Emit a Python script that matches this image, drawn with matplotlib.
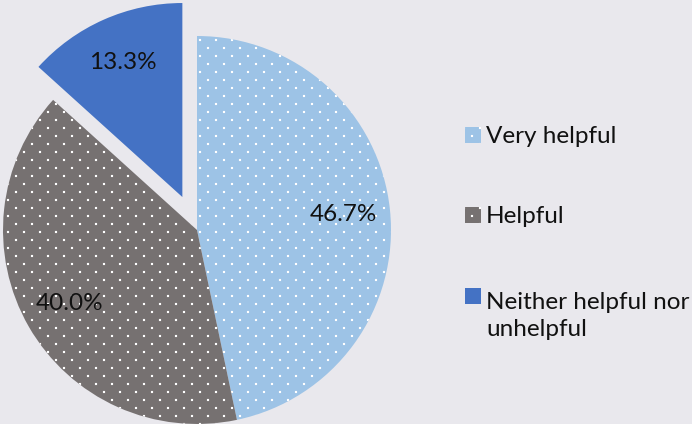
import numpy as np
import matplotlib
matplotlib.use("Agg")
import matplotlib.pyplot as plt
import matplotlib.hatch as mhatch
from matplotlib.path import Path
from matplotlib.patches import Rectangle

# ---------------- data ----------------
categories = ["Very helpful", "Helpful", "Neither helpful nor\nunhelpful"]
values = [46.7, 40.0, 13.3]
explode_frac = [0.0, 0.0, 0.186]
colors = ["#9DC3E6", "#767171", "#4472C4"]
hatches = [".", ".", None]

DPI = 96
W, H = 692, 424
BG = "#E9E8ED"
R = 194
FS = 18.2


# Office-style sparse dotted fill: staggered lattice, 16 px across, 8 px between rows
class OfficeDots(mhatch.HatchPatternBase):
    size = 2.0 / DPI

    def __init__(self, hatch, density):
        pts = []
        if hatch.count(".") > 0:
            for r in range(13):
                y = r / 12
                if r % 2 == 0:
                    xs = np.linspace(0, 1, 7)
                else:
                    xs = np.linspace(1 / 12, 11 / 12, 6)
                pts += [(x, y) for x in xs]
        self.centers = np.array(pts).reshape(-1, 2)
        self.num_vertices = len(pts) * 5

    def set_vertices_and_codes(self, vertices, codes):
        h = self.size / 2
        sq = np.array([[-h, -h], [h, -h], [h, h], [-h, h], [-h, -h]])
        verts = (self.centers[:, None, :] + sq[None]).reshape(-1, 2)
        vertices[:] = verts
        c = np.array([Path.MOVETO, Path.LINETO, Path.LINETO, Path.LINETO,
                      Path.CLOSEPOLY], dtype=Path.code_type)
        codes[:] = np.tile(c, len(self.centers))


mhatch._hatch_types = [OfficeDots if t is mhatch.SmallFilledCircles else t
                       for t in mhatch._hatch_types]

plt.rcParams["font.family"] = ["Lato", "DejaVu Sans"]
plt.rcParams["hatch.linewidth"] = 0.1

fig = plt.figure(figsize=(W / DPI, H / DPI), dpi=DPI, facecolor=BG)
ax = fig.add_axes([0, 0, 1, 1])
ax.set_facecolor(BG)

wedges, texts, autotexts = ax.pie(
    values,
    colors=colors,
    explode=[e * R for e in explode_frac],
    startangle=90,
    counterclock=False,
    radius=R,
    center=(197, 194),
    autopct="%1.1f%%",
    pctdistance=0.76,
    textprops=dict(fontsize=FS, color="#111111"),
    wedgeprops=dict(linewidth=0, edgecolor="white"),
)
for w, h in zip(wedges, hatches):
    if h:
        w.set_hatch(h)

ax.set_xlim(0, W)
ax.set_ylim(0, H)
ax.set_aspect("auto")
ax.axis("off")

# legend (manual, so the marker sits on the first line of a wrapped label)
leg_marker_top = [127, 207, 288]    # image rows (from top)
leg_last_baseline = [143, 223, 336]
for cat, col, hat, top, base in zip(categories, colors, hatches,
                                    leg_marker_top, leg_last_baseline):
    rect = Rectangle((465, H - top - 16), 16, 16, facecolor=col,
                     edgecolor="white", linewidth=0, hatch=hat)
    ax.add_patch(rect)
    ax.text(486, H - base, cat, fontsize=FS, color="#111111",
            ha="left", va="baseline", linespacing=1.35)

fig.savefig("out.png", dpi=DPI, facecolor=BG)
